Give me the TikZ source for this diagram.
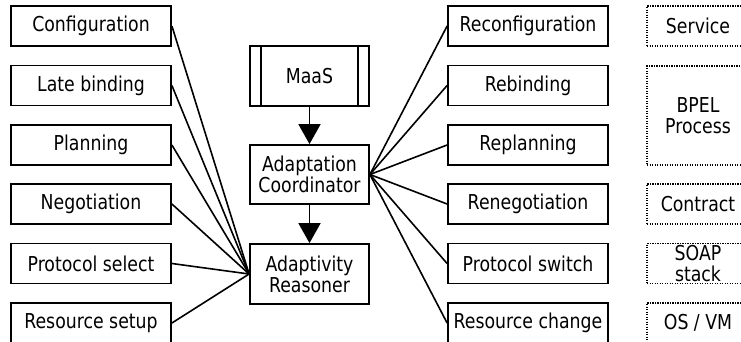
\documentclass[tikz,border=0pt]{standalone}
\usepackage{fontspec}
\setmainfont{DejaVu Sans}[FakeStretch=0.845]
\usetikzlibrary{arrows.meta}
\tikzset{
  box/.style={draw, line width=1.8pt, minimum width=160pt, minimum height=40pt, inner sep=0pt},
  core/.style={draw, line width=1.8pt, minimum width=119pt, minimum height=59pt, inner sep=0pt, align=center},
  layer/.style={draw, line width=1.3pt, dash pattern=on 1.3pt off 1.2pt, minimum width=102pt, inner sep=0pt, align=center},
  link/.style={line width=1.6pt},
  flow/.style={line width=1.8pt, -{Triangle[length=20pt,width=22pt]}}
}
\begin{document}
\begin{tikzpicture}[x=1pt, y=-1pt, font=\fontsize{20.5}{21}\selectfont]
\useasboundingbox (0,0) rectangle (741,341);
\clip (0,0) rectangle (741,341);
% adaptation mechanisms
\node[box] (cfg) at (91,26) {Configuration};
\node[box] (late) at (91,85.5) {Late binding};
\node[box] (plan) at (91,145) {Planning};
\node[box] (nego) at (91,204) {Negotiation};
\node[box] (proto) at (91,263.5) {Protocol select};
\node[box] (setup) at (91,323) {Resource setup};
% adaptation actions
\node[box] (recfg) at (528,26) {Reconfiguration};
\node[box] (rebind) at (528,85.5) {Rebinding};
\node[box] (replan) at (528,145) {Replanning};
\node[box] (renego) at (528,204) {Renegotiation};
\node[box] (switch) at (528,263.5) {Protocol switch};
\node[box] (change) at (528,323) {Resource change};
% layers
\node[layer, minimum height=40pt] (service) at (698,26) {Service};
\node[layer, minimum height=99pt] (bpel) at (698,115.5) {BPEL\\Process};
\node[layer, minimum height=40pt] (contract) at (698,204) {Contract};
\node[layer, minimum height=40pt] (soap) at (698,263.5) {SOAP\\stack};
\node[layer, minimum height=40pt] (os) at (698,323) {OS / VM};
% middle column
\node[core, minimum height=60pt] (maas) at (309.5,76) {MaaS};
\draw[line width=1.8pt] ([xshift=12pt]maas.north west) -- ([xshift=12pt]maas.south west);
\draw[line width=1.8pt] ([xshift=-12pt]maas.north east) -- ([xshift=-12pt]maas.south east);
\node[core] (coord) at (309.5,174.5) {Adaptation\\Coordinator};
\node[core, minimum height=60pt] (reason) at (309.5,274) {Adaptivity\\Reasoner};
\draw[flow] (maas) -- (coord);
\draw[flow] (coord) -- (reason);
% links
\draw[link] (cfg.east) -- (reason.west);
\draw[link] (late.east) -- (reason.west);
\draw[link] (plan.east) -- (reason.west);
\draw[link] (nego.east) -- (reason.west);
\draw[link] (proto.east) -- (reason.west);
\draw[link] (setup.east) -- (reason.west);
\draw[link] (coord.east) -- (recfg.west);
\draw[link] (coord.east) -- (rebind.west);
\draw[link] (coord.east) -- (replan.west);
\draw[link] (coord.east) -- (renego.west);
\draw[link] (coord.east) -- (switch.west);
\draw[link] (coord.east) -- (change.west);
\end{tikzpicture}
\end{document}
